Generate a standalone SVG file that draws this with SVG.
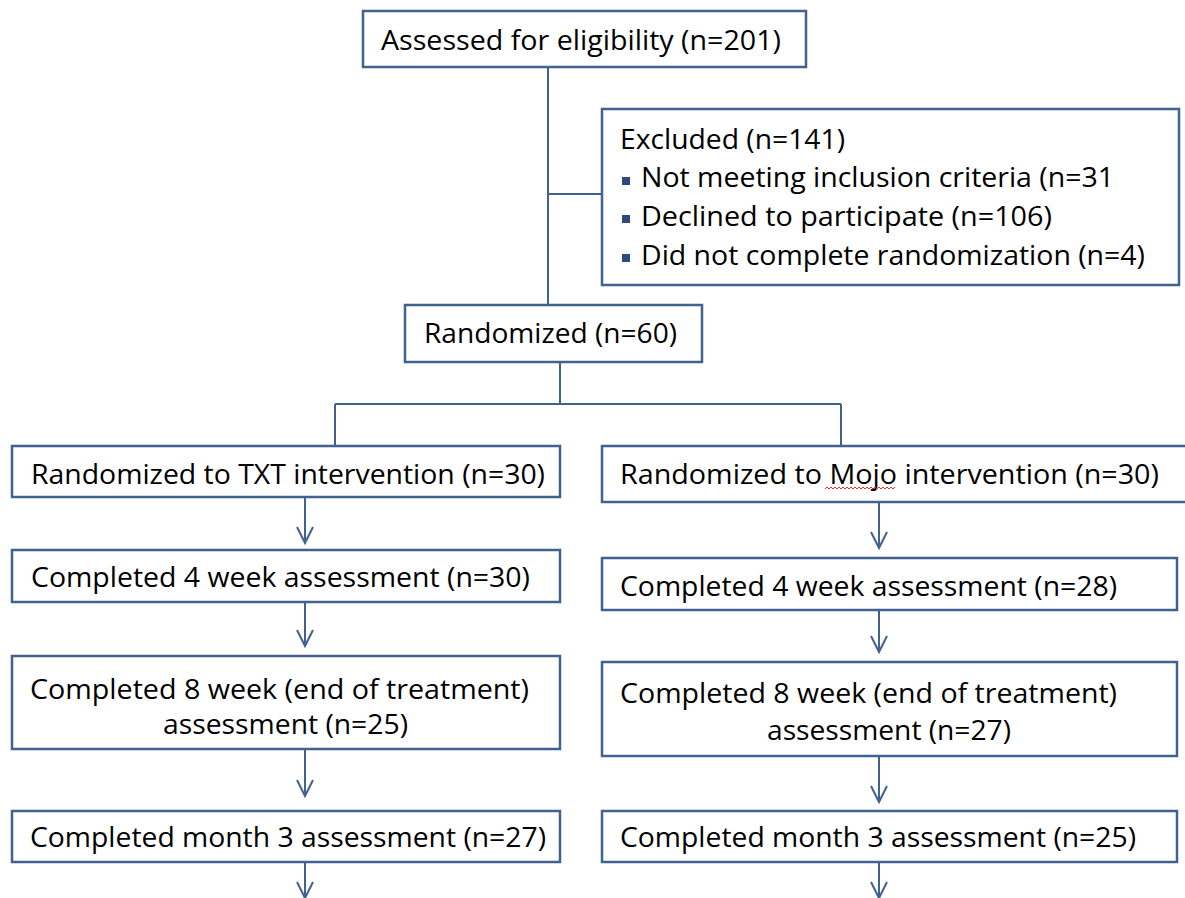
<svg xmlns="http://www.w3.org/2000/svg" width="1185" height="898" viewBox="0 0 1185 898">
<style>
.box{fill:#fff;stroke:#3F6290;stroke-width:2.5}
.conn{stroke:#41618E;stroke-width:2;fill:none}
.t{font-family:"Open Sans","Liberation Sans",sans-serif;font-size:27px;fill:#000}
.bul{fill:#2E4A7A}
</style>
<rect width="1185" height="898" fill="#fff"/>
<g id="connectors">
<path class="conn" d="M548,67V305M548,194H602M560,362V404M335,404H841M335,404V446M841,404V446"/>
<path class="conn" d="M305,497V543M297,527L305,543L313,527"/>
<path class="conn" d="M305,602V646M297,630L305,646L313,630"/>
<path class="conn" d="M305,749V796M297,780L305,796L313,780"/>
<path class="conn" d="M305,862V898M297,882L305,898L313,882"/>
<path class="conn" d="M879,502V548M871,532L879,548L887,532"/>
<path class="conn" d="M879,610V652M871,636L879,652L887,636"/>
<path class="conn" d="M879,756V802M871,786L879,802L887,786"/>
<path class="conn" d="M879,862V898M871,882L879,898L887,882"/>
</g>
<g id="assessed">
<rect class="box" x="363" y="11" width="443" height="56"/>
<text class="t" x="381" y="50" textLength="400" lengthAdjust="spacingAndGlyphs">Assessed for eligibility (n=201)</text>
</g>
<g id="excluded">
<rect class="box" x="602" y="109" width="577" height="176"/>
<text class="t" x="620" y="149" textLength="225" lengthAdjust="spacingAndGlyphs">Excluded (n=141)</text>
<rect class="bul" x="622" y="177" width="8" height="8"/>
<rect class="bul" x="622" y="215" width="8" height="8"/>
<rect class="bul" x="622" y="254" width="8" height="8"/>
<text class="t" x="641" y="187" textLength="473" lengthAdjust="spacingAndGlyphs">Not meeting inclusion criteria (n=31</text>
<text class="t" x="641" y="226" textLength="411" lengthAdjust="spacingAndGlyphs">Declined to participate (n=106)</text>
<text class="t" x="641" y="265" textLength="504" lengthAdjust="spacingAndGlyphs">Did not complete randomization (n=4)</text>
</g>
<g id="randomized">
<rect class="box" x="405" y="305" width="297" height="57"/>
<text class="t" x="424" y="343" textLength="253" lengthAdjust="spacingAndGlyphs">Randomized (n=60)</text>
</g>
<g id="txt-rand">
<rect class="box" x="12" y="446" width="548" height="51"/>
<text class="t" x="31" y="484" textLength="514" lengthAdjust="spacingAndGlyphs">Randomized to TXT intervention (n=30)</text>
</g>
<g id="mojo-rand">
<rect class="box" x="602" y="446" width="600" height="56"/>
<text class="t" x="620" y="484" textLength="539" lengthAdjust="spacingAndGlyphs">Randomized to Mojo intervention (n=30)</text>
<path d="M825,489l2,-2l2,2l2,-2l2,2l2,-2l2,2l2,-2l2,2l2,-2l2,2l2,-2l2,2l2,-2l2,2l2,-2l2,2l2,-2l2,2l2,-2l2,2l2,-2l2,2l2,-2l2,2l2,-2l2,2l2,-2l2,2l2,-2l2,2l2,-2l2,2l2,-2l2,2l2,-2" fill="none" stroke="#E03030" stroke-width="1"/>
</g>
<g id="txt-4wk">
<rect class="box" x="12" y="550" width="548" height="52"/>
<text class="t" x="31" y="587" textLength="499" lengthAdjust="spacingAndGlyphs">Completed 4 week assessment (n=30)</text>
</g>
<g id="mojo-4wk">
<rect class="box" x="602" y="558" width="575" height="52"/>
<text class="t" x="620" y="596" textLength="497" lengthAdjust="spacingAndGlyphs">Completed 4 week assessment (n=28)</text>
</g>
<g id="txt-8wk">
<rect class="box" x="12" y="656" width="548" height="93"/>
<text class="t" x="30" y="699" textLength="499" lengthAdjust="spacingAndGlyphs">Completed 8 week (end of treatment)</text>
<text class="t" x="163" y="734" textLength="245" lengthAdjust="spacingAndGlyphs">assessment (n=25)</text>
</g>
<g id="mojo-8wk">
<rect class="box" x="602" y="662" width="575" height="94"/>
<text class="t" x="620" y="703" textLength="497" lengthAdjust="spacingAndGlyphs">Completed 8 week (end of treatment)</text>
<text class="t" x="767" y="740" textLength="244" lengthAdjust="spacingAndGlyphs">assessment (n=27)</text>
</g>
<g id="txt-m3">
<rect class="box" x="12" y="811" width="548" height="51"/>
<text class="t" x="30" y="847" textLength="516" lengthAdjust="spacingAndGlyphs">Completed month 3 assessment (n=27)</text>
</g>
<g id="mojo-m3">
<rect class="box" x="602" y="811" width="575" height="51"/>
<text class="t" x="620" y="847" textLength="516" lengthAdjust="spacingAndGlyphs">Completed month 3 assessment (n=25)</text>
</g>
</svg>
